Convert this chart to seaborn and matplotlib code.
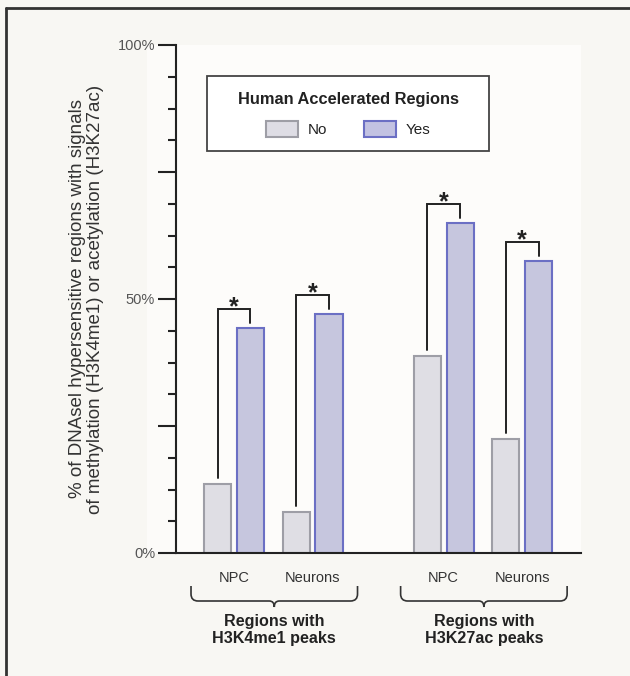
import matplotlib
matplotlib.use("Agg")
import matplotlib.pyplot as plt
import matplotlib.patches as mpatches
import matplotlib.transforms as mtransforms
from matplotlib.lines import Line2D
from matplotlib.path import Path
from matplotlib.ticker import FixedLocator, MultipleLocator, FuncFormatter
import seaborn as sns
import pandas as pd

# values (% of DNaseI hypersensitive regions)
cells = ["NPC", "Neurons", "NPC", "Neurons"]
har_no = [13.6, 8.1, 38.8, 22.4]
har_yes = [44.3, 47.0, 65.0, 57.5]
har_levels = ["No", "Yes"]
group_labels = ["Regions with\nH3K4me1 peaks", "Regions with\nH3K27ac peaks"]
legend_title = "Human Accelerated Regions"
ylabel = ("% of DNAsel hypersensitive regions with signals\n"
          "of methylation (H3K4me1) or acetylation (H3K27ac)")

# layout only: where each cell type sits on the x axis (gap between groups)
slot_pos = [0.0, 1.0, 2.67, 3.67]

face = ["#dedde5", "#c2c2e2"]
edge = ["#9e9ea6", "#6b6fc4"]
bg = "#f8f7f3"

df = pd.DataFrame({
    "pos": slot_pos * 2,
    "cell": cells * 2,
    "har": ["No"] * len(cells) + ["Yes"] * len(cells),
    "pct": har_no + har_yes,
})

sns.set_style("ticks")
plt.rcParams["font.family"] = ["Liberation Sans", "DejaVu Sans"]

fig = plt.figure(figsize=(6.3, 6.76), dpi=100, facecolor=bg)
W, H = 630, 676
# slightly lighter panel behind the plot
fig.patches.append(mpatches.Rectangle((147 / W, 1 - 553 / H), 434 / W, 508 / H,
                                      transform=fig.transFigure, facecolor="#fcfbf9",
                                      edgecolor="none", zorder=-1))
ax = fig.add_axes([176 / W, 1 - 553 / H, 405 / W, 508 / H])
ax.set_facecolor("#fdfcfa")

sns.barplot(
    data=df, x="pos", y="pct", hue="har", hue_order=har_levels,
    palette=face, native_scale=True, width=0.84, gap=0.18,
    errorbar=None, legend=False, ax=ax,
)
for cont, ec in zip(ax.containers, edge):
    for bar in cont:
        bar.set_edgecolor(ec)
        bar.set_linewidth(1.5)

ax.set_xlim(-0.739, 4.42)
ax.set_ylim(0, 100)

# axes and ticks
for s in ["top", "right"]:
    ax.spines[s].set_visible(False)
for s in ["left", "bottom"]:
    ax.spines[s].set_linewidth(1.5)
    ax.spines[s].set_color("#222222")

ax.yaxis.set_major_locator(FixedLocator([0, 25, 50, 75, 100]))
ax.yaxis.set_minor_locator(MultipleLocator(6.25))
ax.yaxis.set_major_formatter(FuncFormatter(lambda v, p: f"{v:.0f}%" if v in (0, 50, 100) else ""))
ax.tick_params(axis="y", which="major", length=13, width=1.5, color="#222222",
               labelsize=10.5, labelcolor="#555555", pad=2)
ax.tick_params(axis="y", which="minor", length=5.5, width=1.5, color="#222222")

ax.set_xticks(slot_pos)
ax.set_xticklabels(cells)
ax.tick_params(axis="x", length=0, labelsize=10.5, labelcolor="#333333", pad=13)
ax.set_xlabel("")
ax.set_ylabel(ylabel, fontsize=13.5, color="#333333", linespacing=1.05)
ax.yaxis.set_label_coords(-0.178, 0.5)

# significance brackets from the drawn bars
no_bars, yes_bars = ax.containers[0], ax.containers[1]
for b0, b1 in zip(no_bars, yes_bars):
    x0 = b0.get_x() + b0.get_width() / 2
    x1 = b1.get_x() + b1.get_width() / 2
    top = b1.get_height() + 3.7
    ax.plot([x0, x0, x1, x1], [b0.get_height() + 1.2, top, top, b1.get_height() + 1.0],
            color="#222222", lw=1.4, solid_joinstyle="miter", clip_on=False)
    ax.annotate("*", xy=((x0 + x1) / 2, top), xytext=(0, -3.5), textcoords="offset points",
                ha="center", va="baseline", fontsize=18, fontweight="bold", color="#222222")

# curly braces under each pair of cell types
trans = mtransforms.blended_transform_factory(ax.transData, ax.transAxes)
ux, uy = 78.5, 508.0
y_top, y_mid, y_tip = -33 / uy, -48 / uy, -54 / uy
r = 7
for g, label in enumerate(group_labels):
    left = no_bars[2 * g].get_x() - 13 / ux
    right = yes_bars[2 * g + 1].get_x() + yes_bars[2 * g + 1].get_width() + 15 / ux
    cx = (left + right) / 2
    rx, ry = r / ux, r / uy
    verts = [
        (left, y_top), (left, y_mid + ry), (left, y_mid), (left + rx, y_mid),
        (cx - 5 / ux, y_mid), (cx, y_mid), (cx, y_tip),
        (cx, y_mid), (cx + 5 / ux, y_mid),
        (right - rx, y_mid), (right, y_mid), (right, y_mid + ry), (right, y_top),
    ]
    codes = [
        Path.MOVETO, Path.LINETO, Path.CURVE3, Path.CURVE3,
        Path.LINETO, Path.CURVE3, Path.CURVE3,
        Path.CURVE3, Path.CURVE3,
        Path.LINETO, Path.CURVE3, Path.CURVE3, Path.LINETO,
    ]
    ax.add_patch(mpatches.PathPatch(Path(verts, codes), transform=trans, fill=False,
                                    edgecolor="#333333", lw=1.2, clip_on=False))
    ax.text(cx, -61 / uy, label, transform=trans, ha="center", va="top",
            fontsize=11.6, fontweight="bold", color="#222222", linespacing=1.15)

# legend
handles = [mpatches.Patch(facecolor=f, edgecolor=e, lw=1.5, label=l)
           for f, e, l in zip(face, edge, har_levels)]
leg = fig.legend(handles=handles, title=legend_title, ncol=2, loc="upper center",
                 bbox_to_anchor=(348 / W, 1 - 84 / H), frameon=False, borderpad=0,
                 fontsize=11, title_fontproperties={"weight": "bold", "size": 11.8},
                 handlelength=2.15, handleheight=1.18, handletextpad=0.6,
                 columnspacing=2.4, labelspacing=0.95)
for t in leg.get_texts():
    t.set_color("#222222")
leg.get_title().set_color("#222222")
fig.patches.append(mpatches.Rectangle((207 / W, 1 - 151 / H), 282 / W, 75 / H,
                                      transform=fig.transFigure, facecolor="white",
                                      edgecolor="#444444", lw=1.3, zorder=0))

# outer frame (top and left edges visible)
fig.lines.append(Line2D([6 / W, 1], [1 - 8 / H, 1 - 8 / H], transform=fig.transFigure,
                        color="#333333", lw=2))
fig.lines.append(Line2D([6 / W, 6 / W], [0, 1 - 8 / H], transform=fig.transFigure,
                        color="#333333", lw=2))

fig.savefig("out.png", dpi=100, facecolor=bg)
